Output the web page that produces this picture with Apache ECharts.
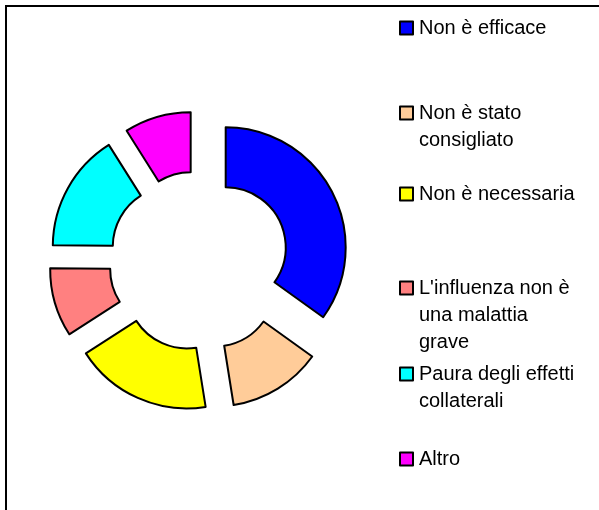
<!DOCTYPE html>
<html>
<head>
<meta charset="utf-8">
<script src="https://cdn.jsdelivr.net/npm/echarts@6/dist/echarts.min.js"></script>
<style>
  html, body { margin: 0; padding: 0; background: #fff; }
  #chart { width: 599px; height: 510px; }
</style>
</head>
<body>
<div id="chart"></div>
<script>
// dati (gradi -> percentuali)
const categories = [
  'Non è efficace',
  'Non è stato consigliato',
  'Non è necessaria',
  "L'influenza non è una malattia grave",
  'Paura degli effetti collaterali',
  'Altro'
];
const values = [34.7, 12.5, 18.3, 9.2, 15.8, 8.9];
const colors = ['#0000FF', '#FFCC99', '#FFFF00', '#FF8080', '#00FFFF', '#FF00FF'];
// righe della legenda come nel riferimento
const legendLines = [
  ['Non è efficace'],
  ['Non è stato', 'consigliato'],
  ['Non è necessaria'],
  ["L'influenza non è", 'una malattia', 'grave'],
  ['Paura degli effetti', 'collaterali'],
  ['Altro']
];
const legendIconY = [28, 113, 194, 288, 374, 459];

const LINE_H = 27;
const chart = echarts.init(document.getElementById('chart'), null, { renderer: 'canvas' });

// la prima riga del testo deve stare all'altezza del quadratino:
// si aggiungono (n-1) righe vuote in testa cosi' il blocco resta centrato
const legends = categories.map((name, i) => {
  const n = legendLines[i].length;
  const pad = new Array(n - 1).fill('');
  return {
    left: 399,
    top: legendIconY[i] - (2 * n - 1) * LINE_H / 2,
    padding: 0,
    orient: 'vertical',
    selectedMode: false,
    itemWidth: 13,
    itemHeight: 13,
    itemGap: 0,
    icon: 'rect',
    itemStyle: { borderColor: '#000', borderWidth: 2 },
    data: [name],
    formatter: () => pad.concat(legendLines[i]).join('\n'),
    textStyle: {
      fontFamily: 'Liberation Sans, Arial, sans-serif',
      fontSize: 20,
      color: '#000',
      lineHeight: LINE_H,
      padding: [0, 0, 0, 1]
    }
  };
});

const option = {
  animation: false,
  backgroundColor: '#fff',
  graphic: [{
    type: 'rect',
    shape: { x: 6, y: 6, width: 620, height: 540 },
    style: { fill: 'none', stroke: '#000', lineWidth: 2 }
  }],
  legend: legends,
  series: [{
    type: 'pie',
    center: [199, 261],
    radius: [60, 120],
    startAngle: 90,
    clockwise: true,
    selectedMode: 'multiple',
    selectedOffset: 30,
    label: { show: false },
    labelLine: { show: false },
    emphasis: { disabled: true },
    itemStyle: { borderColor: '#000', borderWidth: 2 },
    select: { itemStyle: { borderColor: '#000', borderWidth: 2 } },
    data: categories.map((name, i) => ({
      name: name,
      value: values[i],
      selected: true,
      itemStyle: { color: colors[i] }
    }))
  }]
};

chart.setOption(option);
</script>
</body>
</html>
